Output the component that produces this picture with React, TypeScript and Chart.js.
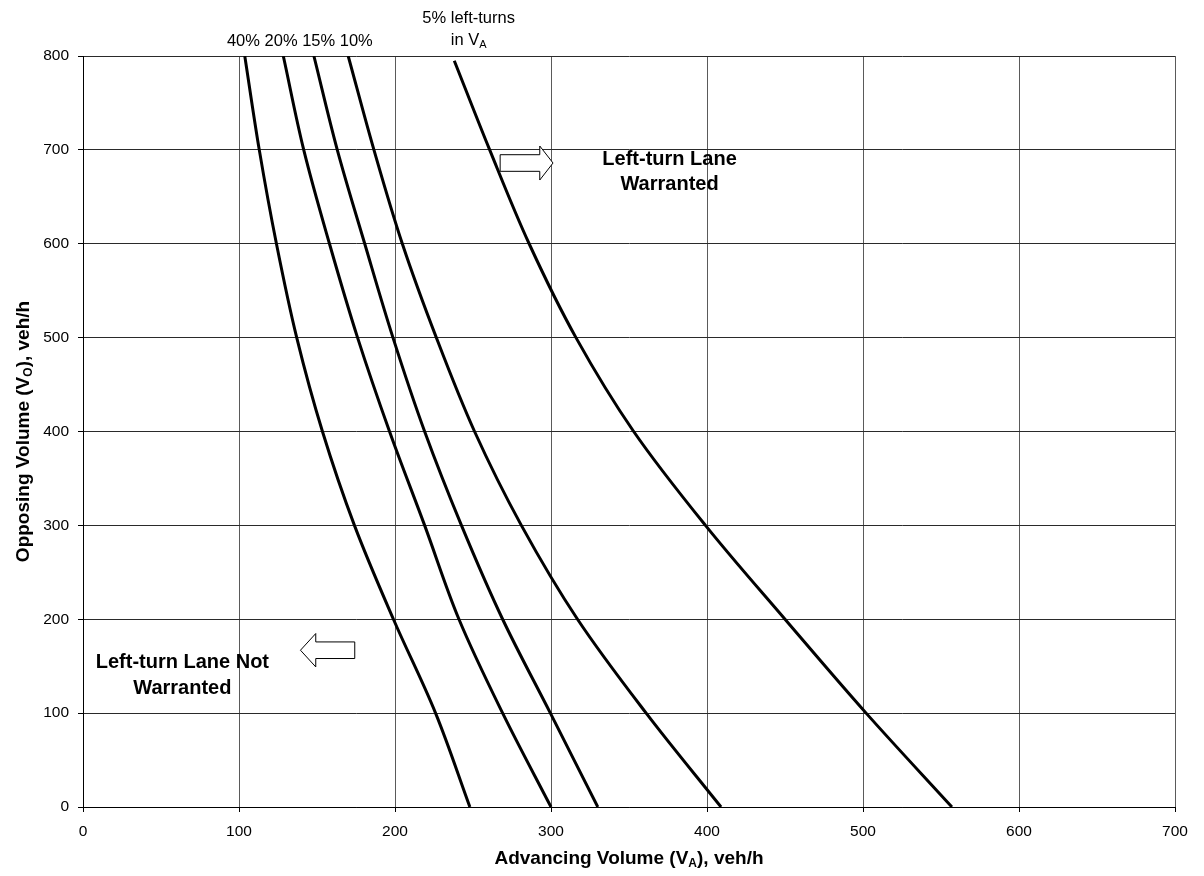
import React, { useEffect, useRef } from "react";
import { Chart, registerables } from "chart.js";

Chart.register(...registerables);

// Axis ranges / ticks
const xTickValues = [0, 100, 200, 300, 400, 500, 600, 700];
const yTickValues = [0, 100, 200, 300, 400, 500, 600, 700, 800];

// Curves: advancing volume (x) vs opposing volume (y), per % left-turns
const curve40X = [103.7, 113, 124, 137, 153.5, 174, 199, 226, 248];
const curve40Y = [800, 700, 600, 500, 400, 300, 200, 100, 0];

const curve20X = [128.4, 141.5, 158, 176, 196.5, 219, 241, 269, 300];
const curve20Y = [800, 700, 600, 500, 400, 300, 200, 100, 0];

const curve15X = [148, 163, 180.6, 198.7, 219, 242.6, 269, 299.6, 330];
const curve15Y = [800, 700, 600, 500, 400, 300, 200, 100, 0];

const curve10X = [170, 186.5, 204.7, 226.5, 251, 281, 317, 361, 409];
const curve10Y = [800, 700, 600, 500, 400, 300, 200, 100, 0];

const curve5X = [238, 260.7, 286, 316, 353, 399, 450, 502, 557];
const curve5Y = [795, 700, 600, 500, 400, 300, 200, 100, 0];

const seriesLabels = ["40%", "20%", "15%", "10%", "5%"];

const xTitleParts: [string, boolean][] = [["Advancing Volume (V", false], ["A", true], ["), veh/h", false]];
const yTitleParts: [string, boolean][] = [["Opposing Volume (V", false], ["O", true], ["), veh/h", false]];
const topLabelA = "40% 20% 15% 10%";
const topLabelB1 = "5% left-turns";
const topLabelB2: [string, boolean][] = [["in V", false], ["A", true]];
const warrantedLines = ["Left-turn Lane", "Warranted"];
const notWarrantedLines = ["Left-turn Lane Not", "Warranted"];

const FONT = "'Liberation Sans', Arial, Helvetica, sans-serif";

function toPoints(xs: number[], ys: number[]) {
  return xs.map((v, i) => ({ x: v, y: ys[i] }));
}

function drawParts(
  ctx: CanvasRenderingContext2D,
  parts: [string, boolean][],
  cx: number,
  baseY: number,
  size: number,
  bold: boolean
) {
  const main = `${bold ? "bold " : ""}${size}px ${FONT}`;
  const sub = `${bold ? "bold " : ""}${Math.round(size * 0.65)}px ${FONT}`;
  let total = 0;
  const widths = parts.map(([t, s]) => {
    ctx.font = s ? sub : main;
    const w = ctx.measureText(t).width;
    total += w;
    return w;
  });
  let x = cx - total / 2;
  ctx.textAlign = "left";
  ctx.textBaseline = "alphabetic";
  parts.forEach(([t, s], i) => {
    ctx.font = s ? sub : main;
    ctx.fillText(t, x, s ? baseY + size * 0.18 : baseY);
    x += widths[i];
  });
}

function drawArrow(
  ctx: CanvasRenderingContext2D,
  bodyEnd: number,
  headBase: number,
  tip: number,
  cy: number,
  bodyHalf: number,
  headHalf: number
) {
  ctx.beginPath();
  ctx.moveTo(bodyEnd, cy - bodyHalf);
  ctx.lineTo(headBase, cy - bodyHalf);
  ctx.lineTo(headBase, cy - headHalf);
  ctx.lineTo(tip, cy);
  ctx.lineTo(headBase, cy + headHalf);
  ctx.lineTo(headBase, cy + bodyHalf);
  ctx.lineTo(bodyEnd, cy + bodyHalf);
  ctx.closePath();
  ctx.fillStyle = "#ffffff";
  ctx.fill();
  ctx.strokeStyle = "#000000";
  ctx.lineWidth = 1;
  ctx.stroke();
}

const overlayPlugin = {
  id: "overlay",
  afterDraw(chart: any) {
    const { ctx, chartArea, scales } = chart;
    const xs = scales.x;
    const ys = scales.y;
    ctx.save();
    ctx.fillStyle = "#000";

    // X title
    drawParts(ctx, xTitleParts, (chartArea.left + chartArea.right) / 2, 864, 19, true);

    // Y title (rotated)
    ctx.save();
    ctx.translate(29, (chartArea.top + chartArea.bottom) / 2);
    ctx.rotate(-Math.PI / 2);
    ctx.fillStyle = "#000";
    drawParts(ctx, yTitleParts, 0, 0, 19, true);
    ctx.restore();

    // Top labels
    ctx.fillStyle = "#000";
    ctx.font = `16.5px ${FONT}`;
    ctx.textAlign = "center";
    ctx.textBaseline = "alphabetic";
    ctx.fillText(topLabelA, xs.getPixelForValue(139), chartArea.top - 10.5);
    ctx.fillText(topLabelB1, xs.getPixelForValue(247.2), chartArea.top - 33.5);
    drawParts(ctx, topLabelB2, xs.getPixelForValue(247.2), chartArea.top - 11, 16.5, false);

    // Annotation texts
    ctx.fillStyle = "#000";
    ctx.font = `bold 20px ${FONT}`;
    ctx.textAlign = "center";
    ctx.textBaseline = "middle";
    ctx.fillText(warrantedLines[0], xs.getPixelForValue(376), ys.getPixelForValue(689.4));
    ctx.fillText(warrantedLines[1], xs.getPixelForValue(376), ys.getPixelForValue(663));
    ctx.fillText(notWarrantedLines[0], xs.getPixelForValue(63.7), ys.getPixelForValue(154));
    ctx.fillText(notWarrantedLines[1], xs.getPixelForValue(63.7), ys.getPixelForValue(126.5));

    // Arrows
    drawArrow(
      ctx,
      xs.getPixelForValue(267.4),
      xs.getPixelForValue(292.8),
      xs.getPixelForValue(301.3),
      ys.getPixelForValue(686),
      8.3,
      17
    );
    drawArrow(
      ctx,
      xs.getPixelForValue(174.2),
      xs.getPixelForValue(149.2),
      xs.getPixelForValue(139.4),
      ys.getPixelForValue(167),
      8.3,
      16.7
    );
    ctx.restore();
  },
};

export default function App() {
  const canvasRef = useRef<HTMLCanvasElement | null>(null);

  useEffect(() => {
    if (!canvasRef.current) return;
    const allX = [curve40X, curve20X, curve15X, curve10X, curve5X];
    const allY = [curve40Y, curve20Y, curve15Y, curve10Y, curve5Y];
    const chart = new Chart(canvasRef.current, {
      type: "scatter",
      data: {
        datasets: allX.map((xs, i) => ({
          label: seriesLabels[i],
          data: toPoints(xs, allY[i]),
          showLine: true,
          borderColor: "#000000",
          borderWidth: 3,
          pointRadius: 0,
          pointHoverRadius: 0,
          tension: 0.35,
          fill: false,
        })),
      },
      options: {
        responsive: false,
        animation: false,
        events: [],
        layout: { padding: { left: 0, right: 29, top: 56, bottom: 0 } },
        plugins: {
          legend: { display: false },
          tooltip: { enabled: false },
          title: { display: false },
        },
        scales: {
          x: {
            type: "linear",
            min: 0,
            max: 700,
            afterBuildTicks: (scale: any) => {
              scale.ticks = xTickValues.map((v) => ({ value: v }));
            },
            afterFit: (scale: any) => {
              scale.height = 69;
            },
            ticks: {
              color: "#000",
              font: { family: FONT, size: 15.5 },
              padding: 10,
              maxRotation: 0,
              autoSkip: false,
            },
            grid: {
              color: "#5a5a5a",
              lineWidth: 1,
              drawTicks: true,
              tickLength: 5,
              tickColor: "#000",
            },
            border: { display: true, color: "#000", width: 1 },
          },
          y: {
            type: "linear",
            min: 0,
            max: 800,
            afterBuildTicks: (scale: any) => {
              scale.ticks = yTickValues.map((v) => ({ value: v }));
            },
            afterFit: (scale: any) => {
              scale.width = 83;
            },
            ticks: {
              color: "#000",
              font: { family: FONT, size: 15.5 },
              padding: 9,
              autoSkip: false,
            },
            grid: {
              color: "#2a2a2a",
              lineWidth: 1,
              drawTicks: true,
              tickLength: 5,
              tickColor: "#000",
            },
            border: { display: true, color: "#000", width: 1 },
          },
        },
      },
      plugins: [overlayPlugin],
    } as any);
    return () => chart.destroy();
  }, []);

  return (
    <div style={{ position: "absolute", left: 0, top: 0, width: 1204, height: 876, background: "#fff" }}>
      <canvas ref={canvasRef} width={1204} height={876} style={{ display: "block" }} />
    </div>
  );
}
